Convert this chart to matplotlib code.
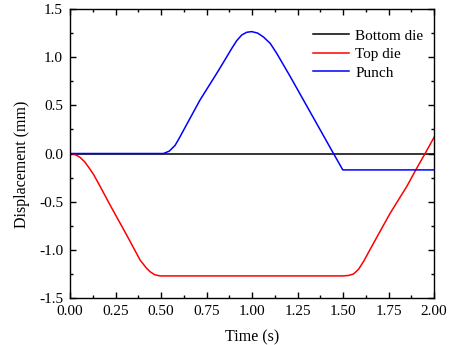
import matplotlib
matplotlib.use("Agg")
import matplotlib.pyplot as plt
from matplotlib.ticker import MultipleLocator

# Bottom die stays at zero
bottom_t = [0.0, 2.0]
bottom_y = [0.0, 0.0]

# Top die
top_t = [0.0, 0.03, 0.055, 0.08, 0.105, 0.13, 0.165, 0.22, 0.311, 0.385, 0.42, 0.44,
         0.465, 0.495, 1.50, 1.53, 1.557, 1.585, 1.612, 1.667, 1.758, 1.85, 1.896,
         1.95, 2.0]
top_y = [0.0, -0.012, -0.04, -0.085, -0.15, -0.22, -0.34, -0.535, -0.846, -1.106,
         -1.19, -1.227, -1.258, -1.27, -1.27, -1.265, -1.25, -1.2, -1.12, -0.93,
         -0.62, -0.34, -0.18, 0.0, 0.17]

# Punch
punch_t = [0.0, 0.513, 0.545, 0.577, 0.60, 0.623, 0.714, 0.806, 0.85, 0.888, 0.915,
           0.943, 0.97, 0.998, 1.03, 1.062, 1.099, 1.135, 1.209, 1.447, 1.498, 2.0]
punch_y = [0.0, 0.0, 0.025, 0.085, 0.16, 0.24, 0.556, 0.833, 0.97, 1.09, 1.17,
           1.23, 1.258, 1.265, 1.25, 1.21, 1.144, 1.04, 0.80, 0.0, -0.17, -0.17]

plt.rcParams['font.family'] = ['Liberation Serif', 'DejaVu Serif']
plt.rcParams['font.size'] = 11

fig = plt.figure(figsize=(4.49, 3.45), dpi=100)
ax = fig.add_axes([0.156, 0.136, 0.811, 0.838])

ax.plot(bottom_t, bottom_y, color='black', lw=1.1, label='Bottom die')
ax.plot(top_t, top_y, color='red', lw=1.1, label='Top die')
ax.plot(punch_t, punch_y, color='blue', lw=1.1, label='Punch')

ax.set_xlim(0, 2)
ax.set_ylim(-1.5, 1.5)
ax.xaxis.set_major_locator(MultipleLocator(0.25))
ax.xaxis.set_minor_locator(MultipleLocator(0.125))
ax.yaxis.set_major_locator(MultipleLocator(0.5))
ax.yaxis.set_minor_locator(MultipleLocator(0.25))
ax.xaxis.set_major_formatter(plt.FormatStrFormatter('%.2f'))
ax.yaxis.set_major_formatter(plt.FormatStrFormatter('%.1f'))
ax.tick_params(which='both', direction='in', top=True, right=True, width=1.0)
ax.tick_params(which='major', length=4)
ax.tick_params(which='minor', length=2.5)
ax.tick_params(axis='x', pad=5)
ax.tick_params(axis='y', pad=5)
for s in ax.spines.values():
    s.set_linewidth(1.0)

ax.set_xlabel('Time (s)', fontsize=11.5, labelpad=8)
ax.set_ylabel('Displacement (mm)', fontsize=11.5)
ax.yaxis.set_label_coords(-0.11, 0.464)
ax.legend(loc='upper right', bbox_to_anchor=(1.0, 0.968), frameon=False,
          handlelength=2.4, labelspacing=0.32, borderaxespad=0.3, handletextpad=0.4)

fig.savefig('out.png', dpi=100)
